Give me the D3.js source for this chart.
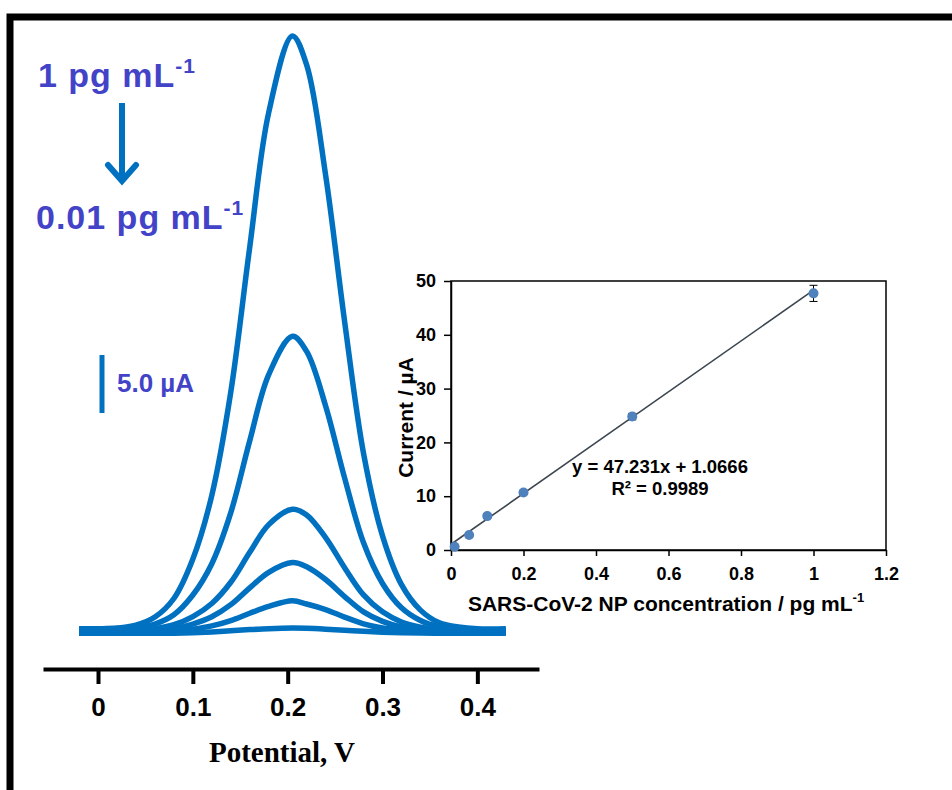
<!DOCTYPE html>
<html>
<head>
<meta charset="utf-8">
<script src="https://unpkg.com/d3@7/dist/d3.min.js"></script>
<style>
  body { margin: 0; background: #fff; }
  svg { display: block; }
</style>
</head>
<body>
<script>
// DPV curves (µA vs potential, V)
const potential = [-0.02, 0, 0.02, 0.04, 0.06, 0.08, 0.1, 0.12, 0.14, 0.16, 0.18, 0.205, 0.22, 0.24, 0.26, 0.28, 0.3, 0.32, 0.34, 0.36, 0.38, 0.4, 0.43]
const dpv1   = [0.2, 0.2, 0.25, 0.5, 1.2, 2.8, 6.2, 11.7, 20.6, 33.1, 44.7, 51.3, 48.8, 39.3, 26.7, 15.3, 8.2, 4.0, 1.8, 0.7, 0.35, 0.2, 0.2]
const dpv05  = [0.1, 0.1, 0.12, 0.25, 0.6, 1.4, 3.1, 5.8, 10.2, 16.4, 22.1, 25.4, 24.1, 19.4, 13.2, 7.6, 4.1, 2.0, 0.9, 0.35, 0.15, 0.1, 0.1]
const dpv02  = [0, 0, 0.01, 0.06, 0.2, 0.54, 1.24, 2.37, 4.2, 6.78, 9.17, 10.5, 10.0, 8.05, 5.46, 3.11, 1.65, 0.78, 0.33, 0.1, 0.03, 0, 0]
const dpv01  = [-0.1, -0.1, -0.09, -0.06, 0.02, 0.2, 0.6, 1.23, 2.27, 3.72, 5.06, 5.9, 5.54, 4.44, 2.97, 1.65, 0.83, 0.34, 0.09, -0.04, -0.08, -0.1, -0.1]
const dpv005 = [-0.15, -0.15, -0.15, -0.13, -0.1, -0.02, 0.16, 0.44, 0.9, 1.53, 2.12, 2.6, 2.33, 1.85, 1.2, 0.62, 0.26, 0.04, -0.07, -0.12, -0.14, -0.15, -0.15]
const dpv001 = [-0.2, -0.2, -0.2, -0.2, -0.2, -0.19, -0.15, -0.08, 0.02, 0.12, 0.2, 0.25, 0.23, 0.16, 0.07, -0.03, -0.1, -0.15, -0.18, -0.2, -0.2, -0.2, -0.2]
const potentialTicks = [0, 0.1, 0.2, 0.3, 0.4]

// calibration inset
const concentration = [0.01, 0.05, 0.1, 0.2, 0.5, 1]
const peakCurrent = [0.6, 2.8, 6.3, 10.7, 24.8, 47.7]
const currentErr = [0.3, 0.3, 0.4, 0.4, 0.6, 1.5]
const fitSlope = 47.231
const fitIntercept = 1.0666
const insetXTicks = [0, 0.2, 0.4, 0.6, 0.8, 1, 1.2]
const insetYTicks = [0, 10, 20, 30, 40, 50]

const blue = '#0070c0'
const labelColor = '#4343c8'
const sans = 'Arial, "Liberation Sans", Helvetica, sans-serif'
const serif = '"Times New Roman", "Liberation Serif", serif'

const width = 952
const height = 790

const svg = d3.select('body').append('svg')
  .attr('width', width)
  .attr('height', height)

// frame (only top and left edges are in view)
svg.append('path')
  .attr('d', `M10,790 V17 H952`)
  .attr('fill', 'none')
  .attr('stroke', '#000')
  .attr('stroke-width', 7)

// ---- main DPV plot ----
const xScale = d3.scaleLinear()
  .domain([-0.058, 0.465])
  .range([43, 539])
const yScale = d3.scaleLinear()
  .domain([0, 50])
  .range([631, 51])

const xAxis = d3.axisBottom(xScale)
  .tickValues(potentialTicks)
  .tickFormat(d3.format('~g'))
  .tickSize(15)
  .tickSizeOuter(0)
  .tickPadding(14)

const gx = svg.append('g')
  .attr('transform', `translate(0,669)`)
  .call(xAxis)
gx.select('.domain').attr('stroke-width', 4)
gx.selectAll('.tick line').attr('stroke-width', 4)
gx.selectAll('.tick text')
  .attr('font-family', sans)
  .attr('font-weight', 'bold')
  .attr('font-size', 26)
  .attr('fill', '#000')

svg.append('text')
  .attr('x', 282)
  .attr('y', 762)
  .attr('text-anchor', 'middle')
  .attr('font-family', serif)
  .attr('font-weight', 'bold')
  .attr('font-size', 29)
  .text('Potential, V')

const line = d3.line()
  .x((d, i) => xScale(potential[i]))
  .y(d => yScale(d))
  .curve(d3.curveCatmullRom.alpha(0.5))

const curves = [dpv001, dpv005, dpv01, dpv02, dpv05, dpv1]
svg.append('g').selectAll('path')
  .data(curves)
  .join('path')
  .attr('d', line)
  .attr('fill', 'none')
  .attr('stroke', blue)
  .attr('stroke-width', 5.5)
  .attr('stroke-linejoin', 'round')

// concentration labels and arrow
const topLabel = svg.append('text')
  .attr('x', 38).attr('y', 87)
  .attr('font-family', sans).attr('font-weight', 'bold')
  .attr('font-size', 34).attr('letter-spacing', 1)
  .attr('fill', labelColor)
topLabel.append('tspan').text('1 pg mL')
topLabel.append('tspan').attr('font-size', 21).attr('dy', -14).text('-1')

const bottomLabel = svg.append('text')
  .attr('x', 36).attr('y', 229)
  .attr('font-family', sans).attr('font-weight', 'bold')
  .attr('font-size', 34).attr('letter-spacing', 1)
  .attr('fill', labelColor)
bottomLabel.append('tspan').text('0.01 pg mL')
bottomLabel.append('tspan').attr('font-size', 21).attr('dy', -14).text('-1')

svg.append('line')
  .attr('x1', 122).attr('y1', 103)
  .attr('x2', 122).attr('y2', 181)
  .attr('stroke', blue).attr('stroke-width', 6)
svg.append('polyline')
  .attr('points', '108,165 122,181 136,165')
  .attr('fill', 'none')
  .attr('stroke', blue).attr('stroke-width', 6)
  .attr('stroke-linecap', 'round')

// 5.0 µA scale bar
const barTop = 355
svg.append('line')
  .attr('x1', 102).attr('x2', 102)
  .attr('y1', barTop)
  .attr('y2', barTop + (yScale(0) - yScale(5)))
  .attr('stroke', blue).attr('stroke-width', 5)
svg.append('text')
  .attr('x', 117).attr('y', 392)
  .attr('font-family', sans).attr('font-weight', 'bold')
  .attr('font-size', 26).attr('fill', labelColor)
  .text('5.0 µA')

// ---- inset: calibration plot ----
const ix = d3.scaleLinear().domain([0, 1.2]).range([451, 886])
const iy = d3.scaleLinear().domain([0, 50]).range([550, 281])

const inset = svg.append('g')

const ixAxis = d3.axisBottom(ix)
  .tickValues(insetXTicks)
  .tickFormat(d3.format('~g'))
  .tickSize(6)
  .tickSizeOuter(0)
  .tickPadding(11)
const iyAxis = d3.axisLeft(iy)
  .tickValues(insetYTicks)
  .tickSize(7)
  .tickSizeOuter(0)
  .tickPadding(8)

inset.append('g').attr('transform', 'translate(0,550)').call(ixAxis)
inset.append('g').attr('transform', 'translate(451,0)').call(iyAxis)
inset.selectAll('.tick line').attr('stroke-width', 1.5)
inset.selectAll('.domain').attr('stroke-width', 1.5)
inset.selectAll('.tick text')
  .attr('font-family', sans)
  .attr('font-weight', 'bold')
  .attr('font-size', 18)
  .attr('fill', '#000')

inset.append('rect')
  .attr('x', ix(0)).attr('y', iy(50))
  .attr('width', ix(1.2) - ix(0))
  .attr('height', iy(0) - iy(50))
  .attr('fill', 'none')
  .attr('stroke', '#000')
  .attr('stroke-width', 1.5)

// fitted line
inset.append('line')
  .attr('x1', ix(0)).attr('y1', iy(fitIntercept))
  .attr('x2', ix(1)).attr('y2', iy(fitSlope + fitIntercept))
  .attr('stroke', '#3c4650')
  .attr('stroke-width', 1.6)

// error bars
const errs = inset.append('g').selectAll('g')
  .data(concentration)
  .join('g')
errs.append('line')
  .attr('x1', d => ix(d)).attr('x2', d => ix(d))
  .attr('y1', (d, i) => iy(peakCurrent[i] + currentErr[i]))
  .attr('y2', (d, i) => iy(peakCurrent[i] - currentErr[i]))
  .attr('stroke', '#000').attr('stroke-width', 1)
errs.selectAll('.cap')
  .data((d, i) => [[d, peakCurrent[i] + currentErr[i]], [d, peakCurrent[i] - currentErr[i]]])
  .join('line')
  .attr('class', 'cap')
  .attr('x1', d => ix(d[0]) - 4).attr('x2', d => ix(d[0]) + 4)
  .attr('y1', d => iy(d[1])).attr('y2', d => iy(d[1]))
  .attr('stroke', '#000').attr('stroke-width', 1)

inset.append('g').selectAll('circle')
  .data(concentration)
  .join('circle')
  .attr('cx', d => ix(d))
  .attr('cy', (d, i) => iy(peakCurrent[i]))
  .attr('r', 5)
  .attr('fill', '#4f81bd')

inset.append('text')
  .attr('x', 660).attr('y', 473)
  .attr('text-anchor', 'middle')
  .attr('font-family', sans).attr('font-weight', 'bold')
  .attr('font-size', 18.5)
  .text(`y = ${fitSlope}x + ${fitIntercept}`)
inset.append('text')
  .attr('x', 660).attr('y', 495)
  .attr('text-anchor', 'middle')
  .attr('font-family', sans).attr('font-weight', 'bold')
  .attr('font-size', 18.5)
  .text('R² = 0.9989')

const xLab = inset.append('text')
  .attr('x', 666).attr('y', 611)
  .attr('text-anchor', 'middle')
  .attr('font-family', sans).attr('font-weight', 'bold')
  .attr('font-size', 21)
xLab.append('tspan').text('SARS-CoV-2 NP concentration / pg mL')
xLab.append('tspan').attr('font-size', 13).attr('dy', -9).text('-1')

inset.append('text')
  .attr('transform', `translate(413,${(iy(0) + iy(50)) / 2 + 2}) rotate(-90)`)
  .attr('text-anchor', 'middle')
  .attr('font-family', sans).attr('font-weight', 'bold')
  .attr('font-size', 21)
  .text('Current / µA')
</script>
</body>
</html>
